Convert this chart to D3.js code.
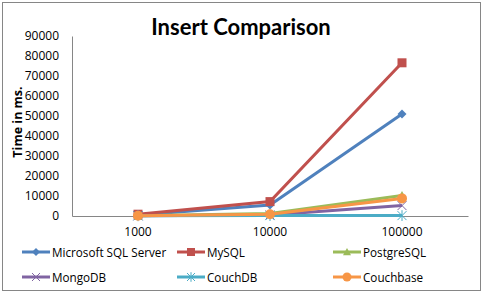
<!DOCTYPE html>
<html>
<head>
<meta charset="utf-8">
<script src="https://cdn.jsdelivr.net/npm/d3@7"></script>
<style>
  body { margin: 0; background: #fff; }
  text { font-family: "Open Sans", Lato, sans-serif; }
</style>
</head>
<body>
<div id="vizcontainer"></div>
<script>
const categories = ['1000', '10000', '100000'],
  seriesNames = ['Microsoft SQL Server', 'MySQL', 'PostgreSQL', 'MongoDB', 'CouchDB', 'Couchbase'],
  mssql = [500, 5500, 51000],
  mysql = [900, 7200, 76600],
  postgres = [100, 1200, 10200],
  mongo = [100, 500, 5200],
  couchdb = [100, 200, 200],
  couchbase = [100, 900, 8800],
  yTicks = [0, 10000, 20000, 30000, 40000, 50000, 60000, 70000, 80000, 90000];

const
  width = 485,
  height = 295,
  colors = ['#4F81BD', '#C0504D', '#9BBB59', '#8064A2', '#4BACC6', '#F79646'],
  shapes = ['diamond', 'square', 'triangle', 'x', 'star', 'circle'],
  values = [mssql, mysql, postgres, mongo, couchdb, couchbase];

const series = seriesNames.map((name, i) => ({ name, values: values[i], color: colors[i], shape: shapes[i] }));

let svg = d3.select('#vizcontainer')
  .append('svg')
  .attr('width', width)
  .attr('height', height);

// chart frame
svg.append('rect')
  .attr('x', 2.5).attr('y', 2.5)
  .attr('width', 478).attr('height', 288)
  .attr('fill', '#fff')
  .attr('stroke', '#868686');

svg.append('text')
  .attr('x', 241).attr('y', 35)
  .attr('text-anchor', 'middle')
  .style('font-family', 'Lato, sans-serif')
  .style('font-weight', 'bold')
  .style('font-size', '22px')
  .text('Insert Comparison');

const x = d3.scaleBand()
  .domain(categories)
  .range([72, 468]);

const y = d3.scaleLinear()
  .domain([0, 90000])
  .range([216, 36]);

let viz = svg.append('g');

// y axis
let yAxis = viz.append('g')
  .attr('transform', 'translate(72,0)')
  .call(d3.axisLeft(y).tickValues(yTicks).tickSize(0).tickPadding(13).tickFormat(d3.format('d')));
yAxis.select('.domain').attr('stroke', '#868686');
yAxis.selectAll('text').style('font-size', '12px').attr('fill', '#000')
  .style('font-family', '"Open Sans", sans-serif');

// x axis
let xAxis = viz.append('g')
  .attr('transform', 'translate(0,216)')
  .call(d3.axisBottom(x).tickSize(0).tickPadding(11));
xAxis.select('.domain').attr('stroke', '#868686');
xAxis.selectAll('text').style('font-size', '12px').attr('fill', '#000')
  .style('font-family', '"Open Sans", sans-serif');

svg.append('text')
  .attr('transform', 'translate(22,122) rotate(-90)')
  .attr('text-anchor', 'middle')
  .style('font-weight', 'bold')
  .style('font-size', '12.5px')
  .text('Time in ms.');

const cx = c => x(c) + x.bandwidth() / 2;

function marker(g, shape, color, size) {
  const s = size;
  if (shape === 'diamond') {
    g.append('path').attr('d', `M0,${-s}L${s},0L0,${s}L${-s},0Z`).attr('fill', color);
  } else if (shape === 'square') {
    g.append('rect').attr('x', -s).attr('y', -s).attr('width', 2 * s).attr('height', 2 * s).attr('fill', color);
  } else if (shape === 'triangle') {
    g.append('path').attr('d', `M0,${-s}L${s},${s * 0.8}L${-s},${s * 0.8}Z`).attr('fill', color);
  } else if (shape === 'x') {
    g.append('path').attr('d', `M${-s},${-s}L${s},${s}M${s},${-s}L${-s},${s}`).attr('stroke', color).attr('stroke-width', 1);
  } else if (shape === 'star') {
    g.append('path').attr('d', `M${-s},${-s}L${s},${s}M${s},${-s}L${-s},${s}M0,${-s * 1.2}L0,${s * 1.2}`).attr('stroke', color).attr('stroke-width', 1);
  } else {
    g.append('circle').attr('r', s + 0.5).attr('fill', color);
  }
}

const line = d3.line()
  .x((d, i) => cx(categories[i]))
  .y(d => y(d));

let lines = viz.append('g');
series.forEach(s => {
  lines.append('path')
    .datum(s.values)
    .attr('d', line)
    .attr('fill', 'none')
    .attr('stroke', s.color)
    .attr('stroke-width', 3);
  s.values.forEach((v, i) => {
    const g = lines.append('g').attr('transform', `translate(${cx(categories[i])},${y(v)})`);
    marker(g, s.shape, s.color, 4.5);
  });
});

// legend
const legX = [22, 177, 333], legY = [252, 277];
let legend = svg.append('g');
series.forEach((s, i) => {
  const lx = legX[i % 3], ly = legY[Math.floor(i / 3)];
  const g = legend.append('g').attr('transform', `translate(${lx},${ly})`);
  g.append('line').attr('x1', 0).attr('x2', 28).attr('stroke', s.color).attr('stroke-width', 3);
  const m = g.append('g').attr('transform', 'translate(14,0)');
  marker(m, s.shape, s.color, 4);
  g.append('text')
    .attr('x', 30).attr('y', 4.5)
    .style('font-size', '11.7px')
    .text(s.name);
});
</script>
</body>
</html>
